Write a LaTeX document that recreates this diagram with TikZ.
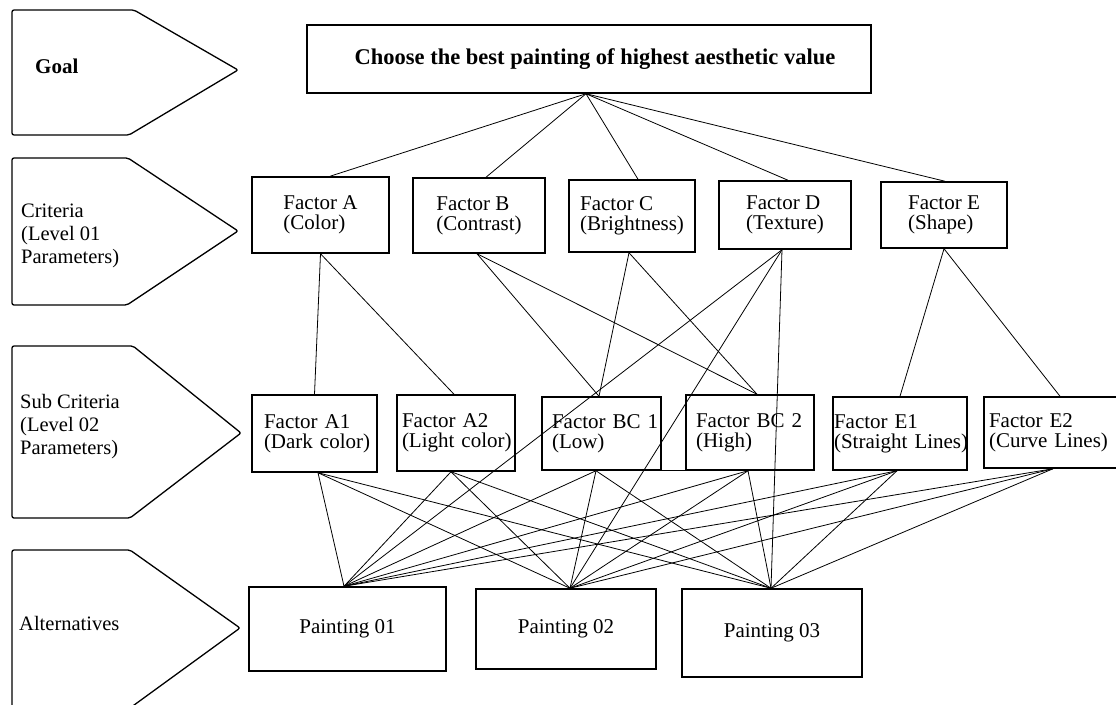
\documentclass[tikz,border=0pt]{standalone}
\usepackage{fontspec}
\setmainfont{Liberation Serif}
\usetikzlibrary{calc}
\begin{document}
\begin{tikzpicture}[x=1pt,y=-1pt,
  box/.style={draw, line width=1.5pt, inner sep=0pt, font=\fontsize{21}{20}\selectfont},
  crit/.style={box, align=left},
  subbox/.style={box, align=left},
  alt/.style={box, font=\fontsize{21}{24}\selectfont},
  conn/.style={line width=0.8pt},
  level/.style={draw, line width=1.3pt, rounded corners=2pt},
  lab/.style={anchor=west, align=left, inner sep=0pt, font=\fontsize{20.5}{23}\selectfont}]
\clip (0,0) rectangle (1116,704);
\fill[white] (0,0) rectangle (1116,704);

% level pentagons
\draw[level] (12,10) -- (134,10) -- (238,70) -- (129,135) -- (12,135) -- cycle;
\draw[level] (12,158) -- (128,158) -- (238,231) -- (127,305) -- (12,305) -- cycle;
\draw[level] (12,346) -- (133,346) -- (241,433) -- (130,518) -- (12,518) -- cycle;
\draw[level] (12,550) -- (130,550) -- (240,628) -- (130,708) -- (12,708) -- cycle;

\node[lab, font=\fontsize{21}{24}\selectfont\bfseries] (lgoal) at (35,66) {Goal};
\node[lab] (lcrit) at (21,236) {Criteria\\(Level 01\\Parameters)};
\node[lab] (lsub) at (20,427) {Sub Criteria\\(Level 02\\Parameters)};
\node[lab] (lalt) at (19,623) {Alternatives};

% goal
\node[box, minimum width=564pt, minimum height=68pt, font=\fontsize{22.5}{26}\selectfont\bfseries] (goal) at (589,59)
  {\hspace*{12pt}Choose the best painting of highest aesthetic value};

% criteria
\node[crit, minimum width=137pt, minimum height=76pt] (fa) at (320.5,215) {Factor A\\(Color)};
\node[crit, minimum width=132pt, minimum height=75pt] (fb) at (479,215.5) {Factor B\\(Contrast)};
\node[crit, minimum width=126pt, minimum height=72pt] (fc) at (632,216) {Factor C\\(Brightness)};
\node[crit, minimum width=132pt, minimum height=68pt] (fd) at (785,215) {Factor D\\(Texture)};
\node[crit, minimum width=126pt, minimum height=66pt] (fe) at (944,215) {Factor E\\(Shape)};

% sub criteria
\node[subbox, minimum width=125pt, minimum height=77pt, text width=101pt] (a1) at (314.5,433.5) {\mbox{Factor A1}\\\mbox{(Dark color)}};
\node[subbox, minimum width=118pt, minimum height=76pt, text width=108pt] (a2) at (456,433) {\mbox{Factor A2}\\\mbox{(Light color)}};
\node[subbox, minimum width=119pt, minimum height=73pt, text width=99pt] (bc1) at (601.5,433.5) {\mbox{Factor BC 1}\\\mbox{(Low)}};
\node[subbox, minimum width=128pt, minimum height=75pt, text width=108pt] (bc2) at (750,432.5) {\mbox{Factor BC 2}\\\mbox{(High)}};
\node[subbox, minimum width=134pt, minimum height=73pt, text width=132pt] (e1) at (900,433.5) {\mbox{Factor E1}\\\mbox{(Straight Lines)}};
\node[subbox, minimum width=141pt, minimum height=71pt, text width=131pt] (e2) at (1054.5,432.5) {\mbox{Factor E2}\\\mbox{(Curve Lines)}};

% alternatives
\node[alt, minimum width=197pt, minimum height=84pt] (p1) at (347.5,629) {Painting 01};
\node[alt, minimum width=180pt, minimum height=80pt] (p2) at (566,629) {\raisebox{4pt}{Painting 02}};
\node[alt, minimum width=180pt, minimum height=88pt] (p3) at (772,633) {\raisebox{5pt}{Painting 03}};

% hub coordinates
\coordinate (gh) at ($(goal.south)+(-3,0)$);
\coordinate (fat) at ($(fa.north)+(9.5,0)$);
\coordinate (fbt) at ($(fb.north)+(7,0)$);
\coordinate (fct) at ($(fc.north)+(6,0)$);
\coordinate (fdt) at ($(fd.north)+(3,0)$);
\coordinate (fet) at ($(fe.north)+(1,0)$);

\coordinate (fab) at (fa.south);
\coordinate (fbb) at ($(fb.south)+(-2,0)$);
\coordinate (fcb) at ($(fc.south)+(-3,0)$);
\coordinate (fdb) at ($(fd.south)+(-3,0)$);
\coordinate (feb) at (fe.south);

\coordinate (a1t) at (a1.north);
\coordinate (a2t) at ($(a2.north)+(-2,0)$);
\coordinate (bc1t) at ($(bc1.north)+(-2.5,0)$);
\coordinate (bc2t) at ($(bc2.north)+(7,0)$);
\coordinate (e1t) at (e1.north);
\coordinate (e2t) at ($(e2.north)+(5.5,0)$);

\coordinate (a1b) at ($(a1.south)+(3.5,0)$);
\coordinate (a2b) at ($(a2.south)+(-5,0)$);
\coordinate (bc1b) at ($(bc1.south)+(-5.5,0)$);
\coordinate (bc2b) at ($(bc2.south)+(-2,0)$);
\coordinate (e1b) at ($(e1.south)+(-3,0)$);
\coordinate (e2b) at ($(e2.south)+(-1.5,0)$);

\coordinate (p1t) at ($(p1.north)+(-3.5,0)$);
\coordinate (p2t) at ($(p2.north)+(4,0)$);
\coordinate (p3t) at ($(p3.north)+(-1,0)$);

% goal to criteria
\foreach \c in {fat,fbt,fct,fdt,fet} \draw[conn] (gh) -- (\c);

% criteria to sub criteria
\draw[conn] (fab) -- (a1t);
\draw[conn] (fab) -- (a2t);
\draw[conn] (fbb) -- (bc1t);
\draw[conn] (fbb) -- (bc2t);
\draw[conn] (fcb) -- (bc1t);
\draw[conn] (fcb) -- (bc2t);
\draw[conn] (feb) -- (e1t);
\draw[conn] (feb) -- (e2t);
% texture straight to alternatives
\foreach \p in {p1t,p2t,p3t} \draw[conn] (fdb) -- (\p);

% sub criteria to alternatives
\foreach \s in {a1b,a2b,bc1b,bc2b,e1b,e2b}
  \foreach \p in {p1t,p2t,p3t}
    \draw[conn] (\s) -- (\p);

\draw[conn] (bc1.south east) -- (bc2.south west);
\end{tikzpicture}
\end{document}
